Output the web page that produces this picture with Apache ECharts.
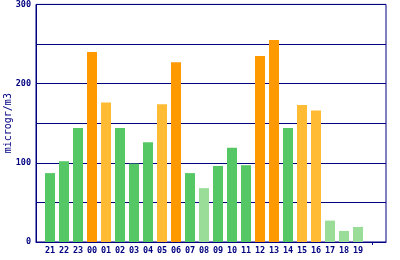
<!DOCTYPE html>
<html><head><meta charset="utf-8">
<script src="https://cdn.jsdelivr.net/npm/echarts@6/dist/echarts.min.js"></script>
<style>html,body{margin:0;padding:0;background:#fff}#c{width:400px;height:260px}</style>
</head><body><div id="c"></div>
<script>
var hours = ['', '21','22','23','00','01','02','03','04','05','06','07','08','09','10','11','12','13','14','15','16','17','18','19','', ''];
var values = [null, 87,102,144,240,176,144,99,126,174,227,87,68,96,119,97,235,255,144,173,166,27,14,19, null, null];
var levels = [0, 2,2,2,4,3,2,2,2,3,4,2,1,2,2,2,4,4,2,3,3,1,1,1, 0, 0];
var yTicks = [0, 100, 200, 300];

var palette = {1:'#99DD99', 2:'#55C865', 3:'#FFBB33', 4:'#FF9900'};
var navy = '#000080';
var font = '"DejaVu Sans Mono", monospace';

var data = values.map(function(v, i){
  return {value: v, itemStyle: {color: palette[levels[i]] || '#fff'}};
});

var chart = echarts.init(document.getElementById('c'));
chart.setOption({
  animation: false,
  grid: {left: 36, right: 14, top: 4.4, bottom: 18, containLabel: false, outerBoundsMode: 'none',
         show: true, borderColor: navy, borderWidth: 1, backgroundColor: '#fff'},
  xAxis: {
    type: 'category', data: hours, boundaryGap: false,
    axisLine: {lineStyle: {color: navy, width: 1}},
    axisTick: {show: true, length: 3, lineStyle: {color: navy}, interval: function(i){ return i === 24; }},
    axisLabel: {interval: 0, color: navy, fontFamily: font, fontSize: 8.5, fontWeight: 'bold', margin: 4},
    splitLine: {show: false}
  },
  yAxis: {
    type: 'value', min: 0, max: 300, interval: 50,
    name: 'microgr/m3', nameLocation: 'middle', nameRotate: 90, nameGap: 23, nameMoveOverlap: false,
    nameTextStyle: {color: navy, fontFamily: font, fontSize: 10},
    axisLine: {show: true, lineStyle: {color: navy, width: 1}},
    axisTick: {show: true, inside: true, length: 3, lineStyle: {color: navy}},
    axisLabel: {color: navy, fontFamily: font, fontSize: 8.5, fontWeight: 'bold', margin: 5,
      formatter: function(v){ return yTicks.indexOf(v) >= 0 ? String(v) : ''; }},
    splitLine: {show: true, lineStyle: {color: navy, width: 1}}
  },
  series: [{type: 'bar', data: data, barWidth: 10}]
});
</script></body></html>
